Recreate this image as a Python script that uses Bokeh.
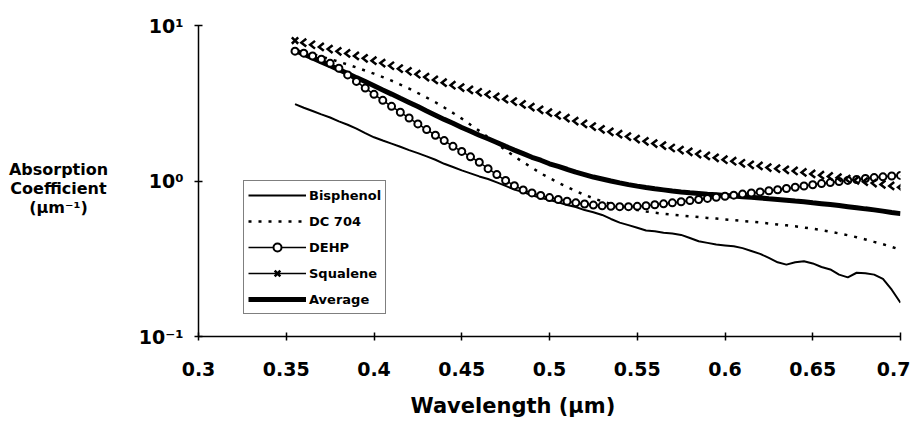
import numpy as np
from bokeh.plotting import figure
from bokeh.layouts import row
from bokeh.models import (FixedTicker, CustomJSTickFormatter, Legend, LegendItem,
                          Label, Range1d, Title)
from bokeh.embed import file_html
from bokeh.resources import INLINE

# ---------------- data ----------------
wavelength = [0.355, 0.36, 0.365, 0.37, 0.375, 0.38, 0.385, 0.39, 0.395, 0.40,
              0.405, 0.41, 0.415, 0.42, 0.425, 0.43, 0.435, 0.44, 0.445, 0.45,
              0.455, 0.46, 0.465, 0.47, 0.475, 0.48, 0.485, 0.49, 0.495, 0.50,
              0.505, 0.51, 0.515, 0.52, 0.525, 0.53, 0.535, 0.54, 0.545, 0.55,
              0.555, 0.56, 0.565, 0.57, 0.575, 0.58, 0.585, 0.59, 0.595, 0.60,
              0.605, 0.61, 0.615, 0.62, 0.625, 0.63, 0.635, 0.64, 0.645, 0.65,
              0.655, 0.66, 0.665, 0.67, 0.675, 0.68, 0.685, 0.69, 0.695, 0.70]

bisphenol = [3.12, 2.96, 2.82, 2.68, 2.56, 2.42, 2.30, 2.17, 2.03, 1.91,
             1.82, 1.74, 1.66, 1.58, 1.51, 1.44, 1.37, 1.29, 1.23, 1.17,
             1.12, 1.07, 1.03, 0.98, 0.93, 0.88, 0.85, 0.81, 0.78, 0.755,
             0.73, 0.70, 0.68, 0.65, 0.63, 0.605, 0.57, 0.54, 0.52, 0.50,
             0.48, 0.475, 0.465, 0.46, 0.45, 0.43, 0.41, 0.40, 0.39, 0.385,
             0.38, 0.37, 0.355, 0.34, 0.32, 0.30, 0.29, 0.30, 0.305, 0.295,
             0.28, 0.27, 0.25, 0.24, 0.257, 0.255, 0.25, 0.235, 0.20, 0.165]

dc704 = [7.00, 6.76, 6.53, 6.31, 6.08, 5.85, 5.61, 5.37, 5.13, 4.90,
         4.66, 4.42, 4.17, 3.93, 3.68, 3.44, 3.21, 2.97, 2.74, 2.52,
         2.30, 2.10, 1.91, 1.74, 1.58, 1.44, 1.32, 1.22, 1.12, 1.045,
         0.975, 0.914, 0.861, 0.815, 0.774, 0.740, 0.711, 0.687, 0.667, 0.650,
         0.637, 0.625, 0.615, 0.607, 0.600, 0.593, 0.586, 0.579, 0.573, 0.566,
         0.560, 0.553, 0.547, 0.541, 0.533, 0.526, 0.519, 0.511, 0.502, 0.493,
         0.483, 0.472, 0.460, 0.448, 0.435, 0.421, 0.406, 0.392, 0.377, 0.361]

dehp = [6.84, 6.64, 6.37, 6.07, 5.71, 5.31, 4.81, 4.37, 3.96, 3.61,
        3.30, 3.02, 2.77, 2.54, 2.33, 2.14, 1.97, 1.82, 1.67, 1.55,
        1.43, 1.32, 1.20, 1.10, 1.007, 0.933, 0.875, 0.838, 0.807, 0.782,
        0.760, 0.741, 0.724, 0.711, 0.700, 0.692, 0.687, 0.684, 0.684, 0.687,
        0.693, 0.703, 0.713, 0.724, 0.736, 0.748, 0.760, 0.773, 0.785, 0.798,
        0.811, 0.824, 0.838, 0.851, 0.865, 0.879, 0.895, 0.912, 0.929, 0.946,
        0.962, 0.977, 0.993, 1.009, 1.023, 1.038, 1.052, 1.064, 1.076, 1.086]

squalene = [8.00, 7.76, 7.52, 7.28, 7.05, 6.82, 6.61, 6.37, 6.15, 5.94,
            5.73, 5.51, 5.28, 5.07, 4.86, 4.66, 4.47, 4.29, 4.13, 3.99,
            3.85, 3.72, 3.60, 3.48, 3.36, 3.24, 3.11, 2.99, 2.87, 2.75,
            2.64, 2.54, 2.43, 2.33, 2.24, 2.15, 2.07, 2.00, 1.93, 1.86,
            1.80, 1.74, 1.69, 1.63, 1.58, 1.54, 1.49, 1.45, 1.41, 1.37,
            1.34, 1.30, 1.27, 1.25, 1.22, 1.20, 1.18, 1.16, 1.135, 1.11,
            1.09, 1.07, 1.05, 1.03, 1.01, 0.99, 0.97, 0.95, 0.93, 0.91]

average = [6.90, 6.53, 6.18, 5.83, 5.51, 5.20, 4.91, 4.62, 4.36, 4.10,
           3.85, 3.62, 3.40, 3.20, 3.01, 2.82, 2.65, 2.49, 2.35, 2.21,
           2.09, 1.97, 1.87, 1.77, 1.67, 1.58, 1.50, 1.42, 1.36, 1.29,
           1.24, 1.19, 1.14, 1.10, 1.06, 1.03, 1.00, 0.973, 0.948, 0.927,
           0.908, 0.891, 0.877, 0.863, 0.851, 0.841, 0.832, 0.822, 0.815, 0.807,
           0.800, 0.792, 0.785, 0.778, 0.769, 0.761, 0.752, 0.743, 0.735, 0.724,
           0.715, 0.705, 0.695, 0.684, 0.673, 0.662, 0.652, 0.640, 0.628, 0.617]

series_names = ["Bisphenol", "DC 704", "DEHP", "Squalene", "Average"]
x_ticks = [0.3, 0.35, 0.4, 0.45, 0.5, 0.55, 0.6, 0.65, 0.7]
x_tick_labels = ["0.3", "0.35", "0.4", "0.45", "0.5", "0.55", "0.6", "0.65", "0.7"]
y_ticks = [0.1, 1, 10]
y_tick_labels = ["10\u207b\u00b9", "10\u2070", "10\u00b9"]
x_title = "Wavelength (\u00b5m)"
y_title = "Absorption\nCoefficient\n(\u00b5m\u207b\u00b9)"

FONT = "DejaVu Sans"
TOTAL_H = 430
LEFT_W = 130

# ---------------- left panel holding the horizontal y-axis title ----------------
side = figure(width=LEFT_W, height=TOTAL_H, x_range=Range1d(0, LEFT_W),
              y_range=Range1d(0, TOTAL_H), x_axis_type=None, y_axis_type=None,
              output_backend="svg", toolbar_location=None, min_border=0)
side.outline_line_color = None
side.grid.visible = False
side.add_layout(Label(x=58, y=TOTAL_H - 225, text=y_title, text_align="center",
                      text_baseline="middle", text_font=FONT, text_font_style="bold",
                      text_font_size="16px", text_color="black", text_line_height=1.0))

# ---------------- main chart ----------------
p = figure(width=910 - LEFT_W, height=TOTAL_H, x_range=Range1d(0.3, 0.7),
           y_range=Range1d(0.1, 10), y_axis_type="log", output_backend="svg",
           toolbar_location=None, min_border_left=198 - LEFT_W, min_border_right=10,
           min_border_top=25, min_border_bottom=TOTAL_H - 25 - 311)
p.outline_line_color = None
p.grid.visible = False

nearest = """
let best = 0, bd = 1e9;
for (let i = 0; i < tv.length; i++) {
  const d = Math.abs(LOG(tick) - LOG(tv[i]));
  if (d < bd) { bd = d; best = i; }
}
return tl[best];
"""
p.xaxis.ticker = FixedTicker(ticks=x_ticks, minor_ticks=[])
p.xaxis.formatter = CustomJSTickFormatter(args=dict(tv=x_ticks, tl=x_tick_labels),
                                          code=nearest.replace("LOG", ""))
p.yaxis.ticker = FixedTicker(ticks=y_ticks, minor_ticks=[])
p.yaxis.formatter = CustomJSTickFormatter(args=dict(tv=y_ticks, tl=y_tick_labels),
                                          code=nearest.replace("LOG", "Math.log10"))

for ax in (p.xaxis, p.yaxis):
    ax.axis_line_color = "black"
    ax.axis_line_width = 1.5
    ax.major_tick_line_color = "black"
    ax.major_tick_line_width = 1.5
    ax.major_tick_in = 4
    ax.major_tick_out = 4
    ax.minor_tick_line_color = None
    ax.major_label_text_font = FONT
    ax.major_label_text_font_style = "bold"
    ax.major_label_text_font_size = "19px"
    ax.major_label_text_color = "black"

p.xaxis.major_label_standoff = 21
p.yaxis.major_label_standoff = 11

p.add_layout(Title(text=x_title, align="left", offset=212, text_font=FONT,
                   text_font_style="bold", text_font_size="21px", text_color="black",
                   standoff=26), "below")

# ---------------- series ----------------
wl = np.array(wavelength)
r_bis = p.line(wavelength, bisphenol, line_color="black", line_width=2)
r_dc = p.line(wavelength, dc704, line_color="black", line_width=2.5, line_dash="3 7")
r_avg = p.line(wavelength, average, line_color="black", line_width=5)
r_dehp_l = p.line(wavelength, dehp, line_color="black", line_width=1.5)
r_dehp_m = p.scatter(wavelength, dehp, marker="circle", size=7, line_color="black",
                     line_width=2, fill_color="white")

# Squalene markers: first printed as an x, the rest appear as chevrons
sq = np.array(squalene)
hw = 0.0014
k = 10 ** 0.025
xs = [[w + hw, w - hw, w + hw] for w in wl[1:]]
ys = [[s * k, s, s / k] for s in sq[1:]]
p.multi_line(xs=xs, ys=ys, line_color="black", line_width=2.5, line_join="miter")
r_sq_m = p.scatter(wavelength[:1], squalene[:1], marker="x", size=9,
                   line_color="black", line_width=2.5)
# a one-point line draws nothing on the chart but gives the legend its line
r_sq_l = p.line(wavelength[:1], squalene[:1], line_color="black", line_width=1.5)

legend = Legend(items=[
    LegendItem(label=series_names[0], renderers=[r_bis]),
    LegendItem(label=series_names[1], renderers=[r_dc]),
    LegendItem(label=series_names[2], renderers=[r_dehp_l, r_dehp_m]),
    LegendItem(label=series_names[3], renderers=[r_sq_l, r_sq_m]),
    LegendItem(label=series_names[4], renderers=[r_avg]),
], location=(45, 22), border_line_color="black", border_line_width=1,
   background_fill_color="white", background_fill_alpha=1.0,
   label_text_font=FONT, label_text_font_style="bold", label_text_font_size="13px",
   label_text_color="black", glyph_width=58, glyph_height=20, label_height=20,
   label_standoff=3, spacing=6, padding=4, margin=0)
p.add_layout(legend)

layout = row(side, p, spacing=0)
open("out.html", "w").write(file_html(layout, INLINE))
